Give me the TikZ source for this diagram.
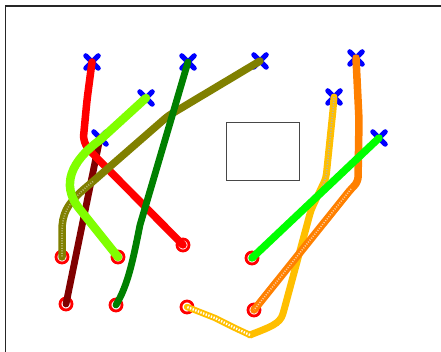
\documentclass[tikz,border=0pt]{standalone}
\usetikzlibrary{shapes.misc}
\definecolor{cRed}{HTML}{FF0000}
\definecolor{cLime}{HTML}{80FF00}
\definecolor{cMaroon}{HTML}{800000}
\definecolor{cDkGreen}{HTML}{008000}
\definecolor{cOlive}{HTML}{808000}
\definecolor{cGold}{HTML}{FFBF00}
\definecolor{cOrange}{HTML}{FF8000}
\definecolor{cGreen}{HTML}{00FF00}
\definecolor{cFrame}{HTML}{262626}
\begin{document}
\begin{tikzpicture}[x=1pt,y=-1pt,
  startmk/.style={cross out, draw=blue, line width=5pt, line cap=round, minimum size=7.5pt, inner sep=0pt},
  endmk/.style={circle, draw=red, line width=2.8pt, minimum size=12pt, inner sep=0pt},
  trace/.style={line width=7.5pt, line cap=round, line join=round},
  hatch/.style={line width=1.6pt, dash pattern=on 1pt off 1.5pt, line join=round},
]
\useasboundingbox (0,0) rectangle (441,352);
\draw[cFrame, line width=1.2pt] (5.5,352) -- (5.5,6) -- (441,6);
\node[draw=cFrame!85, line width=0.9pt, minimum width=73pt, minimum height=58pt, inner sep=0pt, anchor=north west] (box) at (226,122) {};

% start markers
\node[startmk] (s1) at (92,62) {};
\node[startmk] (s2) at (146,98) {};
\node[startmk] (s3) at (100,138) {};
\node[startmk] (s4) at (188,62) {};
\node[startmk] (s5) at (260,61) {};
\node[startmk] (s6) at (334,97) {};
\node[startmk] (s7) at (356,58) {};
\node[startmk] (s8) at (379,138) {};

% end markers
\node[endmk] (e1) at (183,245) {};
\node[endmk] (e2) at (118,257) {};
\node[endmk] (e3) at (66,304) {};
\node[endmk] (e4) at (116,305) {};
\node[endmk] (e5) at (62,257) {};
\node[endmk] (e6) at (187,307) {};
\node[endmk] (e7) at (254,310) {};
\node[endmk] (e8) at (252,258) {};

% left group
\draw[trace, cMaroon, line width=6.8pt] (s3.center) -- (e3.center);
\draw[trace, cRed, rounded corners=7pt] (s1.center) -- (87,100) -- (83,142) -- (92,153) -- (e1.center);
\draw[trace, cOlive, rounded corners=4pt] (s5.center) -- (168,116) -- (90,184) .. controls (66,204) and (62,215) .. (62,235) -- (e5.center);
\draw[hatch, white!45!cOlive] (93,181.5) -- (90,184) .. controls (66,204) and (62,215) .. (62,235) -- (e5.center);
\draw[trace, cDkGreen, line width=6.8pt] (s4.center) -- (140,225) .. controls (133,260) and (128,285) .. (e4.center);
\draw[trace, cLime, line width=8.5pt] (s2.center) -- (100,140) .. controls (70,162) and (62,185) .. (78,207) -- (e2.center);

% right group
\draw[trace, cGold, line width=7pt, rounded corners=4pt] (s6.center) -- (333,110) -- (326,178) -- (311,210) -- (284,310) .. controls (280,324) and (270,327) .. (250,335);
\draw[hatch, white!40!gray, rounded corners=4pt] (s6.center) -- (333,110) -- (326,178) -- (318,196);
\draw[cGold, line width=6.3pt, line cap=round, line join=round] (250,335) -- (235,328) -- (215,318) -- (e6.center);
\draw[white, line width=2.3pt, dash pattern=on 1.4pt off 1.4pt, line join=round] (250,335) -- (235,328) -- (215,318) -- (e6.center);
\draw[trace, cOrange, rounded corners=5pt] (s7.center) -- (359,120) -- (358,182) -- (351,189) -- (e7.center);
\draw[hatch, white!60!cOrange] (351,189) -- (e7.center);
\draw[trace, cGreen] (s8.center) -- (e8.center);
\end{tikzpicture}
\end{document}
